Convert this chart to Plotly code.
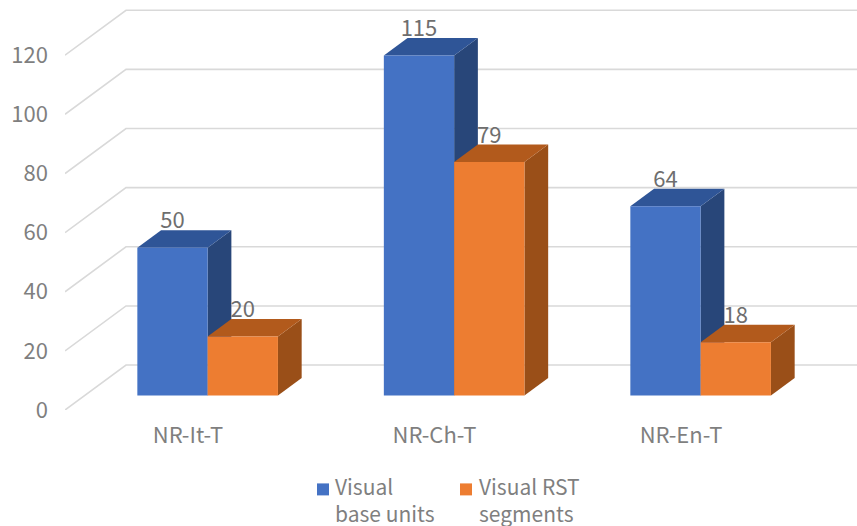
import plotly.graph_objects as go

# Chart data
categories = ["NR-It-T", "NR-Ch-T", "NR-En-T"]
series_names = ["Visual<br>base units", "Visual RST<br>segments"]
base_units = [50, 115, 64]
rst_segments = [20, 79, 18]
y_ticks = [0, 20, 40, 60, 80, 100, 120]

# Style
FRONT = ["#4472C4", "#ED7D31"]
TOP = ["#2F5597", "#B25A1C"]
SIDE = ["#284679", "#9A4F18"]
GRID = "#D9D9D9"
FONT = "Noto Sans CJK SC"
TEXT = "#7F7F7F"

# Figure frame in pixels
W, H = 857, 526
LEFT, BOTTOM = 65, 115.5
PX_PER_UNIT = 2.96
PX_PER_CAT = 246.5
FIRST_CAT_PX = 188

x_range = [(LEFT - FIRST_CAT_PX) / PX_PER_CAT, (W - FIRST_CAT_PX) / PX_PER_CAT]
y_range = [0, (H - BOTTOM) / PX_PER_UNIT]

# Oblique projection: depth 0 is the axis plane, depth 1 the back wall
DEPTH_X = 61 / PX_PER_CAT
DEPTH_Y = 45 / PX_PER_UNIT
BAR_NEAR = 0.322
BAR_FAR = 0.711
LABEL_DEPTH = 0.63
BAR_W = 70.3 / PX_PER_CAT


def proj(x, v, d):
    return x + d * DEPTH_X, v + d * DEPTH_Y


def poly(points, color):
    xs, ys = zip(*points)
    return go.Scatter(
        x=list(xs) + [xs[0]], y=list(ys) + [ys[0]], mode="lines", fill="toself",
        fillcolor=color, line=dict(width=0), hoverinfo="skip",
    )


fig = go.Figure()

# Side wall and back wall gridlines
for tick in y_ticks:
    x0, y0 = proj(x_range[0], tick, 0)
    x1, y1 = proj(x_range[0], tick, 1)
    fig.add_trace(go.Scatter(
        x=[x0, x1, x_range[1]], y=[y0, y1, y1], mode="lines",
        line=dict(color=GRID, width=1.6), hoverinfo="skip",
    ))

# Bars as three visible faces each, with the left series drawn first
label_x, label_y, label_text = [], [], []
for i, _ in enumerate(categories):
    for s, values in enumerate([base_units, rst_segments]):
        v = values[i]
        xl = i + (s - 1) * BAR_W
        xr = xl + BAR_W
        fig.add_trace(poly([proj(xr, 0, BAR_NEAR), proj(xr, 0, BAR_FAR),
                            proj(xr, v, BAR_FAR), proj(xr, v, BAR_NEAR)], SIDE[s]))
        fig.add_trace(poly([proj(xl, v, BAR_NEAR), proj(xr, v, BAR_NEAR),
                            proj(xr, v, BAR_FAR), proj(xl, v, BAR_FAR)], TOP[s]))
        fig.add_trace(poly([proj(xl, 0, BAR_NEAR), proj(xr, 0, BAR_NEAR),
                            proj(xr, v, BAR_NEAR), proj(xl, v, BAR_NEAR)], FRONT[s]))
        lx, _unused = proj((xl + xr) / 2, v, BAR_NEAR)
        _unused, ly = proj(0, v, LABEL_DEPTH)
        label_x.append(lx)
        label_y.append(ly)
        label_text.append(str(v))

# Value labels
fig.add_trace(go.Scatter(
    x=label_x, y=label_y, text=label_text, mode="text", textposition="top center",
    textfont=dict(family=FONT, size=22, color="#6E6E6E"), hoverinfo="skip",
))


def px_x(p):
    return (p - LEFT) / (W - LEFT)


def px_y(p):
    return (H - BOTTOM - p) / (H - BOTTOM)


# Legend: swatch and wrapped name for each series
shapes, annotations = [], []
for name, color, sw_left, text_left in zip(series_names, FRONT, [317, 460], [333, 477]):
    shapes.append(dict(
        type="rect", xref="paper", yref="paper", line_width=0, fillcolor=color,
        x0=px_x(sw_left), x1=px_x(sw_left + 12), y0=px_y(496), y1=px_y(484),
    ))
    annotations.append(dict(
        text=name, xref="paper", yref="paper", x=px_x(text_left), y=px_y(500.5),
        xanchor="left", yanchor="middle", align="left", showarrow=False,
        font=dict(family=FONT, size=21, color=TEXT),
    ))

fig.update_layout(
    width=W, height=H, autosize=False, showlegend=False,
    margin=dict(l=LEFT, r=0, t=0, b=BOTTOM),
    paper_bgcolor="white", plot_bgcolor="white",
    shapes=shapes, annotations=annotations,
    xaxis=dict(
        range=x_range, tickmode="array", tickvals=list(range(len(categories))),
        ticktext=categories, showgrid=False, zeroline=False, showline=False, ticks="",
        ticklabelstandoff=10, tickfont=dict(family=FONT, size=22, color=TEXT),
    ),
    yaxis=dict(
        range=y_range, tickmode="array", tickvals=y_ticks, showgrid=False,
        zeroline=False, showline=False, ticks="", ticklabelstandoff=16,
        tickfont=dict(family=FONT, size=22, color=TEXT),
    ),
)

fig.write_html("out.html", config={"displayModeBar": False})
